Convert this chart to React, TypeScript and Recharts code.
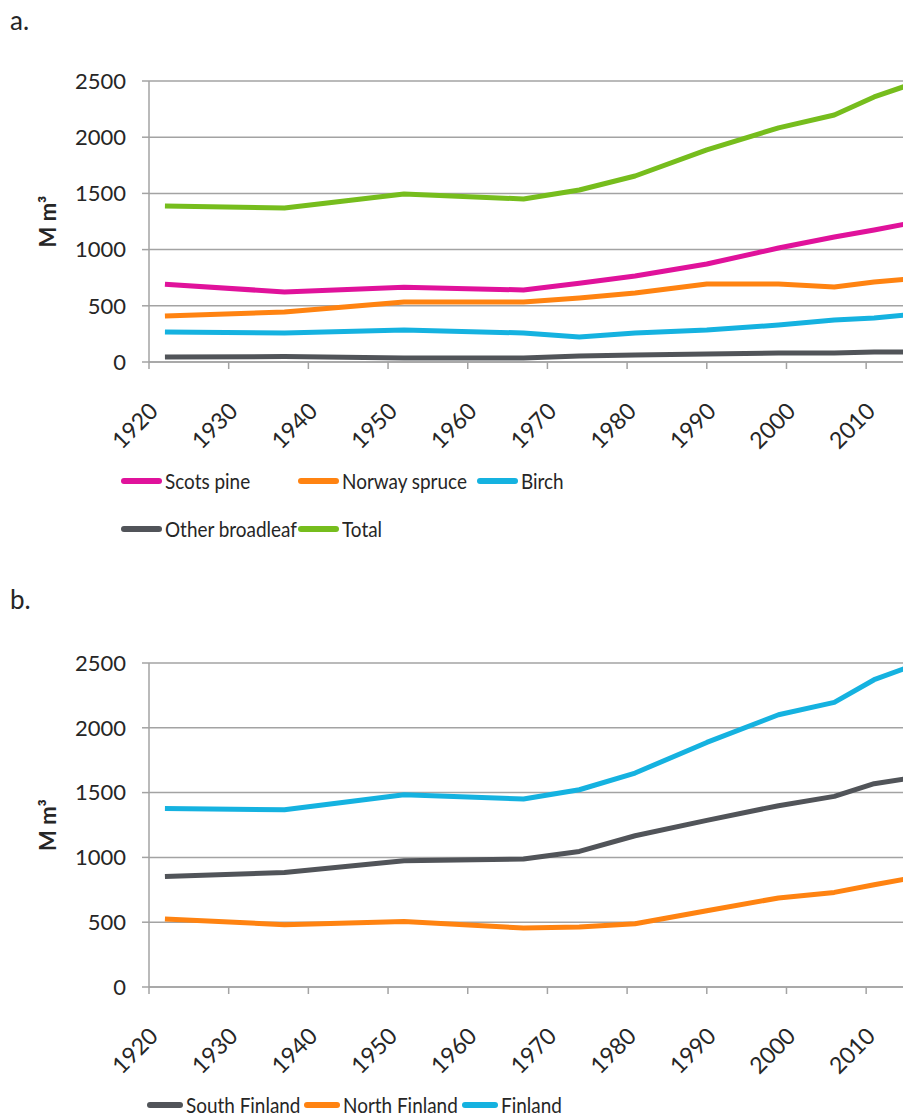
import { LineChart, Line, XAxis, YAxis, CartesianGrid } from "recharts"

const years = [1922, 1937, 1952, 1967, 1974, 1981, 1990, 1999, 2006, 2011, 2015]

// panel a: growing stock by tree species
const scotsPine = [692, 623, 665, 641, 700, 765, 872, 1014, 1112, 1175, 1228]
const norwaySpruce = [409, 445, 534, 534, 570, 614, 694, 694, 668, 712, 737]
const birch = [267, 258, 285, 258, 223, 258, 285, 329, 374, 392, 418]
const otherBroadleaf = [44, 48, 35, 35, 53, 62, 71, 80, 80, 89, 89]
const total = [1388, 1370, 1495, 1450, 1530, 1655, 1887, 2083, 2198, 2358, 2456]

// panel b: growing stock by region
const southFinland = [853, 884, 974, 988, 1046, 1167, 1286, 1399, 1471, 1569, 1607]
const northFinland = [525, 481, 506, 455, 463, 488, 589, 687, 730, 789, 833]
const finland = [1378, 1368, 1484, 1450, 1522, 1651, 1887, 2101, 2196, 2371, 2461]

const xTicks = [1920, 1930, 1940, 1950, 1960, 1970, 1980, 1990, 2000, 2010]
const yTicks = [0, 500, 1000, 1500, 2000, 2500]

const dataA = years.map((year, i) => ({
  year,
  pine: scotsPine[i],
  spruce: norwaySpruce[i],
  birch: birch[i],
  other: otherBroadleaf[i],
  total: total[i],
}))

const dataB = years.map((year, i) => ({
  year,
  south: southFinland[i],
  north: northFinland[i],
  finland: finland[i],
}))

const GRID = "#a3a3a3"
const TEXT = "#262626"
const FONT = "Lato, 'Open Sans', sans-serif"

const seriesA = [
  { key: "pine", name: "Scots pine", color: "#e0129b" },
  { key: "spruce", name: "Norway spruce", color: "#ff8311" },
  { key: "birch", name: "Birch", color: "#15b2e0" },
  { key: "other", name: "Other broadleaf", color: "#515459" },
  { key: "total", name: "Total", color: "#76bd1d" },
]

const seriesB = [
  { key: "south", name: "South Finland", color: "#515459" },
  { key: "north", name: "North Finland", color: "#ff8311" },
  { key: "finland", name: "Finland", color: "#15b2e0" },
]

function YLabel({ viewBox }: any) {
  const cx = viewBox.x + 47
  const cy = viewBox.y + viewBox.height / 2
  return (
    <text
      x={cx}
      y={cy}
      transform={`rotate(-90 ${cx} ${cy})`}
      textAnchor="middle"
      dominantBaseline="central"
      fill={TEXT}
      style={{ fontFamily: FONT, fontSize: 22, fontWeight: 700 }}
    >
      M m³
    </text>
  )
}

function Panel({ data, series, top, height, axisHeight }: any) {
  return (
    <LineChart
      width={906}
      height={height}
      data={data}
      margin={{ top, right: 0, left: 0, bottom: 0 }}
    >
      <CartesianGrid vertical={false} stroke={GRID} strokeWidth={1.5} />
      <XAxis
        dataKey="year"
        type="number"
        domain={[1920, 2015]}
        ticks={xTicks}
        allowDataOverflow
        height={axisHeight}
        interval={0}
        angle={-45}
        textAnchor="end"
        tickSize={7}
        tickMargin={32}
        dx={-1}
        stroke={GRID}
        strokeWidth={1.5}
        tick={{ fill: TEXT, fontSize: 23, fontFamily: FONT }}
      />
      <YAxis
        domain={[0, 2500]}
        ticks={yTicks}
        width={149}
        tickSize={7}
        tickMargin={16}
        stroke={GRID}
        strokeWidth={1.5}
        tick={{ fill: TEXT, fontSize: 22, fontFamily: FONT }}
        label={<YLabel />}
      />
      {series.map((s: any) => (
        <Line
          key={s.key}
          type="linear"
          dataKey={s.key}
          name={s.name}
          stroke={s.color}
          strokeWidth={5}
          strokeLinejoin="round"
          dot={false}
          isAnimationActive={false}
        />
      ))}
    </LineChart>
  )
}

function LegendItem({ x, y, name, color, lineWidth }: any) {
  return (
    <div
      style={{
        position: "absolute",
        left: x,
        top: y - 12,
        height: 24,
        lineHeight: "24px",
        display: "flex",
        alignItems: "center",
        fontFamily: FONT,
        fontSize: 22,
        color: TEXT,
        whiteSpace: "nowrap",
      }}
    >
      <span
        style={{
          display: "inline-block",
          width: lineWidth,
          height: 6,
          borderRadius: 3,
          background: color,
          marginRight: 3,
        }}
      />
      <span style={{ display: "inline-block", transform: "scaleX(0.86)", transformOrigin: "left center" }}>
        {name}
      </span>
    </div>
  )
}

export default function App() {
  return (
    <div
      style={{
        position: "absolute",
        left: 0,
        top: 0,
        width: 903,
        height: 1117,
        overflow: "hidden",
        background: "#fff",
      }}
    >
      <div style={{ position: "absolute", left: 10, top: 4, fontFamily: FONT, fontSize: 26, color: TEXT }}>
        a.
      </div>
      <div style={{ position: "absolute", left: 0, top: 0 }}>
        <Panel data={dataA} series={seriesA} top={81} height={452} axisHeight={90} />
      </div>
      <LegendItem x={121} y={481} name={seriesA[0].name} color={seriesA[0].color} lineWidth={41} />
      <LegendItem x={298} y={481} name={seriesA[1].name} color={seriesA[1].color} lineWidth={41} />
      <LegendItem x={477} y={481} name={seriesA[2].name} color={seriesA[2].color} lineWidth={41} />
      <LegendItem x={121} y={529} name={seriesA[3].name} color={seriesA[3].color} lineWidth={41} />
      <LegendItem x={298} y={529} name={seriesA[4].name} color={seriesA[4].color} lineWidth={41} />

      <div style={{ position: "absolute", left: 10, top: 583, fontFamily: FONT, fontSize: 26, color: TEXT }}>
        b.
      </div>
      <div style={{ position: "absolute", left: 0, top: 580 }}>
        <Panel data={dataB} series={seriesB} top={83} height={497} axisHeight={90} />
      </div>
      <LegendItem x={147} y={1105} name={seriesB[0].name} color={seriesB[0].color} lineWidth={36} />
      <LegendItem x={304} y={1105} name={seriesB[1].name} color={seriesB[1].color} lineWidth={36} />
      <LegendItem x={462} y={1105} name={seriesB[2].name} color={seriesB[2].color} lineWidth={36} />
    </div>
  )
}
